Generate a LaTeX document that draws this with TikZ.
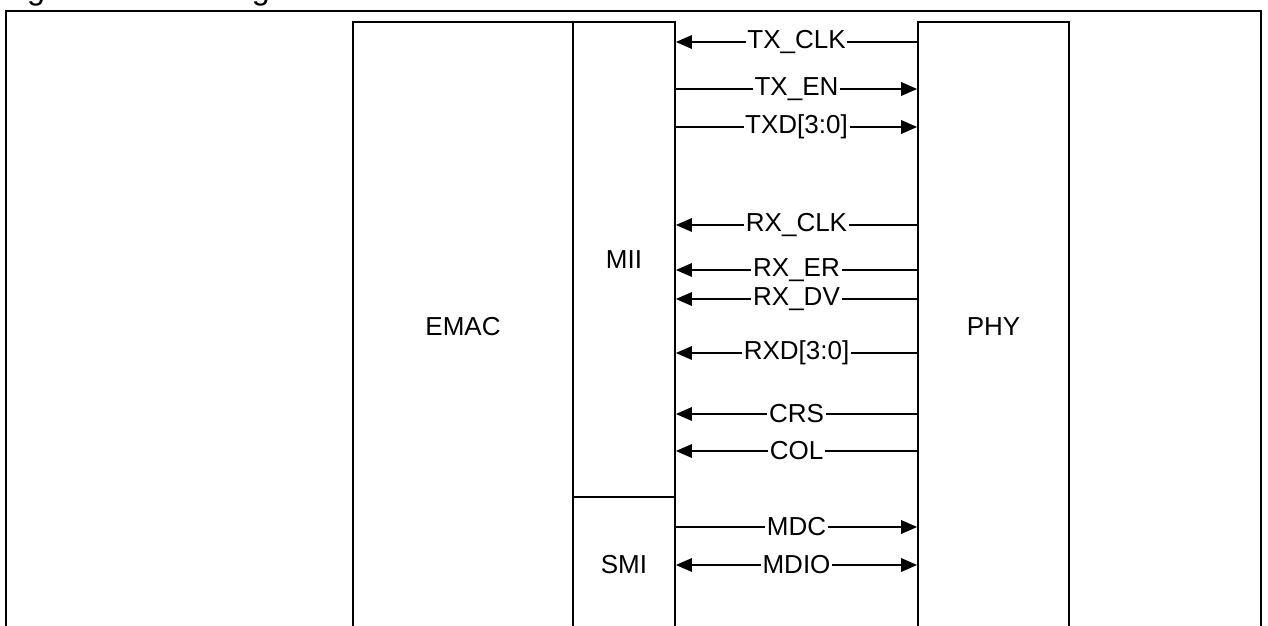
\documentclass[tikz,border=0pt]{standalone}
\usepackage{fontspec}
\setmainfont{Liberation Sans}
\usetikzlibrary{arrows.meta}

\tikzset{
	blk/.style={draw, line width=1.3pt, shape=rectangle, inner sep=0pt, font=\fontsize{18.5}{22}\selectfont},
	sig/.style={line width=1.1pt, >={Triangle[length=0.4cm, width=0.34cm]}},
	lbl/.style={fill=white, inner sep=1.2pt, font=\fontsize{18.5}{22}\selectfont},
}

\begin{document}
\begin{tikzpicture}
	\useasboundingbox (0, 0) rectangle (31.7, -15.65);
	\node[anchor=base west, inner sep=0pt, font=\fontsize{23}{28}\selectfont] (title) at (0, 0) {Figure 25-3 MII signals};
	\draw[line width=1.6pt] (0.15, -16) |- (31.525, -0.275) -- (31.525, -16);
	\node[blk, minimum width=5.5cm, minimum height=15.25cm] (emac) at (11.575, -8.175) {EMAC};
	\node[blk, minimum width=2.55cm, minimum height=11.875cm] (mii) at (15.6, -6.4875) {MII};
	\node[blk, minimum width=2.55cm, minimum height=3.375cm] (smi) at (15.6, -14.1125) {SMI};
	\node[blk, minimum width=3.775cm, minimum height=15.25cm] (phy) at (24.8375, -8.175) {PHY};
	\draw[sig, <-] (mii.east |- 0,-1.05) -- node[lbl]{TX\_CLK} (phy.west |- 0,-1.05);
	\draw[sig, ->] (mii.east |- 0,-2.225) -- node[lbl]{TX\_EN} (phy.west |- 0,-2.225);
	\draw[sig, ->] (mii.east |- 0,-3.175) -- node[lbl]{TXD[3:0]} (phy.west |- 0,-3.175);
	\draw[sig, <-] (mii.east |- 0,-5.625) -- node[lbl]{RX\_CLK} (phy.west |- 0,-5.625);
	\draw[sig, <-] (mii.east |- 0,-6.75) -- node[lbl]{RX\_ER} (phy.west |- 0,-6.75);
	\draw[sig, <-] (mii.east |- 0,-7.475) -- node[lbl]{RX\_DV} (phy.west |- 0,-7.475);
	\draw[sig, <-] (mii.east |- 0,-8.825) -- node[lbl]{RXD[3:0]} (phy.west |- 0,-8.825);
	\draw[sig, <-] (mii.east |- 0,-10.35) -- node[lbl]{CRS} (phy.west |- 0,-10.35);
	\draw[sig, <-] (mii.east |- 0,-11.275) -- node[lbl]{COL} (phy.west |- 0,-11.275);
	\draw[sig, ->] (smi.east |- 0,-13.175) -- node[lbl]{MDC} (phy.west |- 0,-13.175);
	\draw[sig, <->] (smi.east |- 0,-14.125) -- node[lbl]{MDIO} (phy.west |- 0,-14.125);
\end{tikzpicture}
\end{document}
